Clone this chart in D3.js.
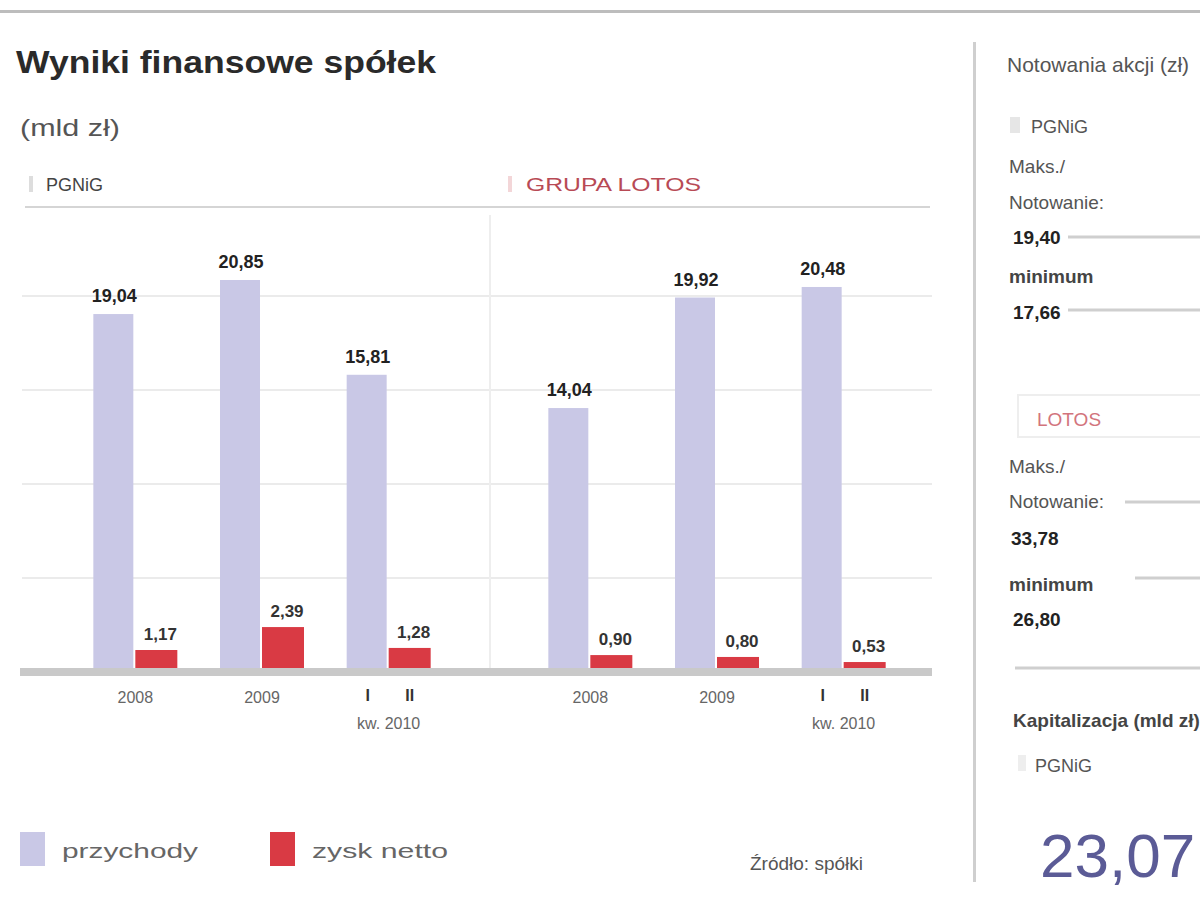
<!DOCTYPE html>
<html>
<head>
<meta charset="utf-8">
<script src="https://cdn.jsdelivr.net/npm/d3@7"></script>
<style>
  body { margin: 0; background: #fff; }
  svg text { font-family: "Liberation Sans", Arial, sans-serif; }
</style>
</head>
<body>
<div id="chart"></div>
<script>
// data
const companies = ["PGNiG", "GRUPA LOTOS"];
const periods = ["2008", "2009", "I-II kw. 2010"];
const revenue = [[19.04, 20.85, 15.81], [14.04, 19.92, 20.48]];   // przychody (mld zł)
const profit  = [[1.17, 2.39, 1.28], [0.90, 0.80, 0.53]];        // zysk netto (mld zł)
const yTicks = [5, 10, 15, 20];
const seriesNames = ["przychody", "zysk netto"];
const quotesPGNiG = ["19,40", "17,66"];
const quotesLotos = ["33,78", "26,80"];
const capPGNiG = "23,07";

const W = 1200, H = 923;
const colRev = "#c9c8e6", colProfit = "#d93a44";
const fmt = v => d3.format(".2f")(v).replace(".", ",");

const svg = d3.select("#chart").append("svg")
    .attr("width", W).attr("height", H);

// frame lines
svg.append("rect").attr("x", 0).attr("y", 10).attr("width", W).attr("height", 3).attr("fill", "#bdbdbd");
svg.append("rect").attr("x", 973).attr("y", 42).attr("width", 3).attr("height", 840).attr("fill", "#cfcfcf");

// title
svg.append("text").attr("x", 16).attr("y", 73)
    .attr("font-size", 32).attr("font-weight", "bold").attr("fill", "#2a2a2a")
    .attr("textLength", 420).attr("lengthAdjust", "spacingAndGlyphs")
    .text("Wyniki finansowe spółek");
svg.append("text").attr("x", 20).attr("y", 136)
    .attr("font-size", 24).attr("fill", "#555")
    .attr("textLength", 100).attr("lengthAdjust", "spacingAndGlyphs")
    .text("(mld zł)");

// tabs
svg.append("rect").attr("x", 29).attr("y", 176).attr("width", 4).attr("height", 16).attr("fill", "#ddd");
svg.append("text").attr("x", 46).attr("y", 191).attr("font-size", 18).attr("fill", "#444").text(companies[0]);
svg.append("rect").attr("x", 508).attr("y", 176).attr("width", 4).attr("height", 16).attr("fill", "#f3d6d8");
svg.append("text").attr("x", 526).attr("y", 191).attr("font-size", 18).attr("fill", "#b84a55")
    .attr("textLength", 175).attr("lengthAdjust", "spacingAndGlyphs").text(companies[1]);
svg.append("line").attr("x1", 25).attr("x2", 930).attr("y1", 207).attr("y2", 207)
    .attr("stroke", "#d5d5d5").attr("stroke-width", 2);

// scales
const y = d3.scaleLinear().domain([0, 25]).range([672, 202]);
const xGroups = [
    d3.scaleBand().domain(periods).range([72, 452]),
    d3.scaleBand().domain(periods).range([527, 907])
];
const barW = 42;

// grid
svg.append("g").selectAll("line").data(yTicks).join("line")
    .attr("x1", 22).attr("x2", 932)
    .attr("y1", d => y(d)).attr("y2", d => y(d))
    .attr("stroke", "#e4e4e4").attr("stroke-width", 1.5);
svg.append("line").attr("x1", 490).attr("x2", 490).attr("y1", 215).attr("y2", 668)
    .attr("stroke", "#eeeeee").attr("stroke-width", 2);

// bars
companies.forEach((c, ci) => {
    const x = xGroups[ci];
    const g = svg.append("g");
    const rows = periods.map((p, i) => ({p, rev: revenue[ci][i], prof: profit[ci][i]}));
    const cx = d => x(d.p) + x.bandwidth() / 2;

    g.selectAll(".rev").data(rows).join("rect")
        .attr("x", d => cx(d) - barW).attr("width", barW - 2)
        .attr("y", d => y(d.rev)).attr("height", d => y(0) - y(d.rev))
        .attr("fill", colRev);
    g.selectAll(".prof").data(rows).join("rect")
        .attr("x", d => cx(d)).attr("width", barW)
        .attr("y", d => y(d.prof)).attr("height", d => y(0) - y(d.prof))
        .attr("fill", colProfit);

    g.selectAll(".revl").data(rows).join("text")
        .attr("x", d => cx(d) - barW / 2).attr("y", d => y(d.rev) - 12)
        .attr("text-anchor", "middle").attr("font-size", 18).attr("font-weight", "bold")
        .attr("fill", "#222").text(d => fmt(d.rev));
    g.selectAll(".profl").data(rows).join("text")
        .attr("x", d => cx(d) + barW / 2 + 4).attr("y", d => y(d.prof) - 10)
        .attr("text-anchor", "middle").attr("font-size", 17).attr("font-weight", "bold")
        .attr("fill", "#333").text(d => fmt(d.prof));

    // period labels
    rows.forEach((d, i) => {
        if (i < 2) {
            g.append("text").attr("x", cx(d)).attr("y", 703)
                .attr("text-anchor", "middle").attr("font-size", 16).attr("fill", "#666").text(d.p);
        } else {
            g.append("text").attr("x", cx(d) - barW / 2).attr("y", 701)
                .attr("text-anchor", "middle").attr("font-size", 16).attr("font-weight", "bold").attr("fill", "#333").text("I");
            g.append("text").attr("x", cx(d) + barW / 2).attr("y", 701)
                .attr("text-anchor", "middle").attr("font-size", 16).attr("font-weight", "bold").attr("fill", "#333").text("II");
            g.append("text").attr("x", cx(d)).attr("y", 729)
                .attr("text-anchor", "middle").attr("font-size", 16).attr("fill", "#666").text("kw. 2010");
        }
    });
});

// baseline
svg.append("rect").attr("x", 20).attr("y", y(0) - 4).attr("width", 912).attr("height", 8).attr("fill", "#c9c9c9");

// legend
const legend = svg.append("g");
[colRev, colProfit].forEach((c, i) => {
    const lx = [20, 270][i];
    legend.append("rect").attr("x", lx).attr("y", 832).attr("width", 25).attr("height", 34).attr("fill", c);
    legend.append("text").attr("x", lx + 42).attr("y", 858).attr("font-size", 21).attr("fill", "#666")
        .attr("textLength", 136).attr("lengthAdjust", "spacingAndGlyphs").text(seriesNames[i]);
});
svg.append("text").attr("x", 750).attr("y", 870).attr("font-size", 19).attr("fill", "#555").text("Źródło: spółki");

// right panel
const rp = svg.append("g");
const txt = (x, yy, s, opts = {}) => rp.append("text").attr("x", x).attr("y", yy)
    .attr("font-size", opts.size || 19).attr("font-weight", opts.bold ? "bold" : "normal")
    .attr("fill", opts.fill || "#555").text(s);
const hline = (x1, yy) => rp.append("line").attr("x1", x1).attr("x2", W).attr("y1", yy).attr("y2", yy)
    .attr("stroke", "#cfcfcf").attr("stroke-width", 3);

txt(1007, 72, "Notowania akcji (zł)", {size: 21});
rp.append("rect").attr("x", 1010).attr("y", 117).attr("width", 10).attr("height", 16).attr("fill", "#e6e6e6");
txt(1031, 133, "PGNiG", {size: 18});
txt(1009, 173, "Maks./", {});
txt(1009, 209, "Notowanie:", {});
txt(1013, 244, quotesPGNiG[0], {bold: true, fill: "#222"});
hline(1068, 237);
txt(1009, 283, "minimum", {bold: true, fill: "#444"});
txt(1013, 319, quotesPGNiG[1], {bold: true, fill: "#222"});
hline(1068, 310);

rp.append("rect").attr("x", 1018).attr("y", 395).attr("width", 200).attr("height", 42)
    .attr("fill", "none").attr("stroke", "#eee").attr("stroke-width", 2);
txt(1037, 426, "LOTOS", {size: 19, fill: "#d2747c"});
txt(1009, 473, "Maks./", {});
txt(1009, 508, "Notowanie:", {});
hline(1125, 502);
txt(1011, 545, quotesLotos[0], {bold: true, fill: "#222"});
txt(1009, 591, "minimum", {bold: true, fill: "#444"});
hline(1135, 578);
txt(1013, 626, quotesLotos[1], {bold: true, fill: "#222"});
hline(1015, 668);

txt(1013, 727, "Kapitalizacja (mld zł)", {size: 19, bold: true, fill: "#444"});
rp.append("rect").attr("x", 1018).attr("y", 755).attr("width", 8).attr("height", 16).attr("fill", "#eee");
txt(1035, 772, "PGNiG", {size: 18});
txt(1040, 877, capPGNiG, {size: 62, fill: "#5b5b96"});
</script>
</body>
</html>
